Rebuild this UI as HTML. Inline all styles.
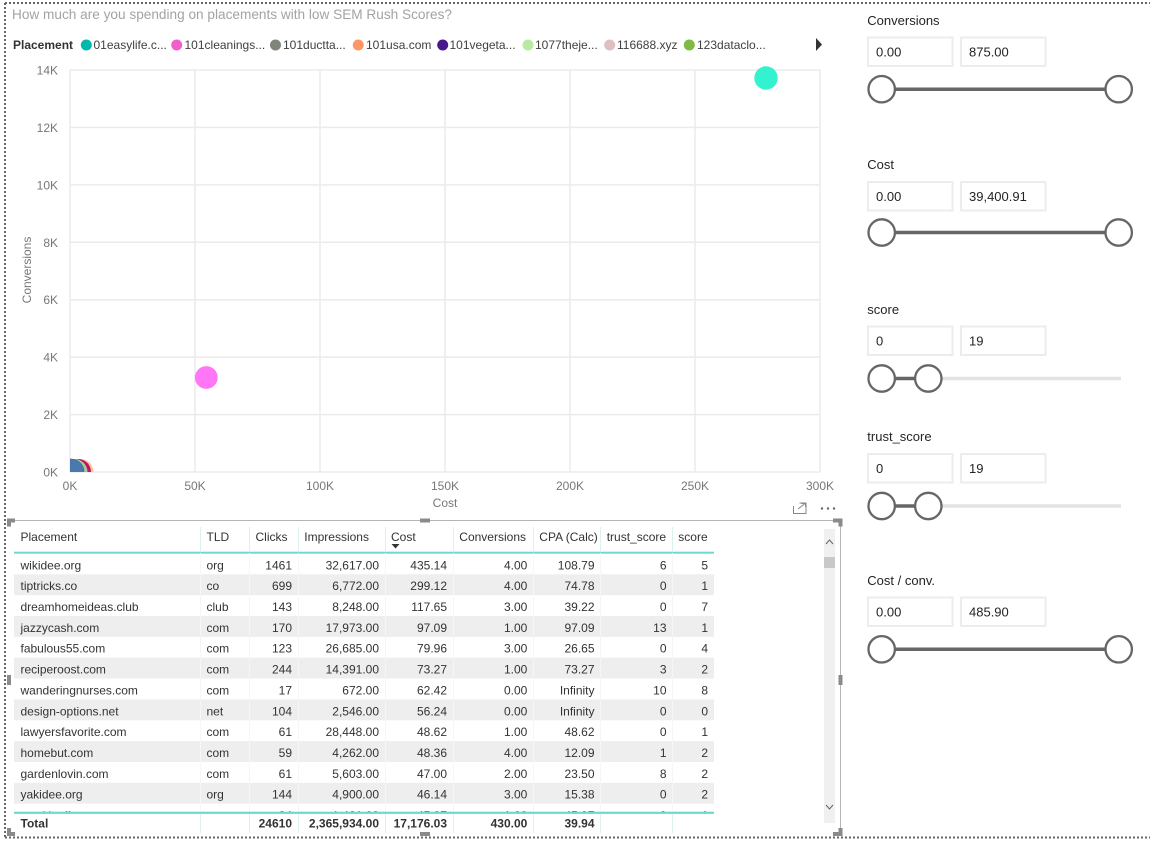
<!DOCTYPE html>
<html>
<head>
<meta charset="utf-8">
<style>
html,body{margin:0;padding:0;background:#fff;}
svg{display:block;}
text{font-family:"Liberation Sans",Arial,sans-serif;}
</style>
</head>
<body>
<svg width="1150" height="841" viewBox="0 0 1150 841" xmlns="http://www.w3.org/2000/svg">
<defs>
<clipPath id="plot"><rect x="70" y="40" width="760" height="432"/></clipPath>
<clipPath id="tbody"><rect x="14" y="553" width="806" height="258.5"/></clipPath>
</defs>

<!-- page dotted border -->
<line x1="5" y1="3" x2="1150" y2="3" stroke="#666" stroke-width="2" stroke-dasharray="2 2"/>
<line x1="5" y1="3" x2="5" y2="838" stroke="#666" stroke-width="2" stroke-dasharray="2 2"/>
<line x1="5" y1="837.5" x2="1150" y2="837.5" stroke="#666" stroke-width="2" stroke-dasharray="2 2"/>

<!-- title -->
<text x="12" y="19" font-size="14" fill="#a3a3a3" textLength="440" lengthAdjust="spacingAndGlyphs">How much are you spending on placements with low SEM Rush Scores?</text>

<!-- legend -->
<g font-size="12" fill="#404040">
<text x="13" y="49" font-weight="bold" fill="#333">Placement</text>
<circle cx="86.3" cy="45" r="5.5" fill="#01B8AA"/><text x="93.5" y="49">01easylife.c...</text>
<circle cx="176.7" cy="45" r="5.5" fill="#F25FCD"/><text x="184.5" y="49">101cleanings...</text>
<circle cx="275.5" cy="45" r="5.5" fill="#7F8579"/><text x="283" y="49">101ductta...</text>
<circle cx="358.3" cy="45" r="5.5" fill="#FE9666"/><text x="366" y="49">101usa.com</text>
<circle cx="442.7" cy="45" r="5.5" fill="#461A8C"/><text x="449.5" y="49">101vegeta...</text>
<circle cx="528" cy="45" r="5.5" fill="#B8EBA2"/><text x="535" y="49">1077theje...</text>
<circle cx="609.7" cy="45" r="5.5" fill="#DFBFBF"/><text x="617" y="49">116688.xyz</text>
<circle cx="689.3" cy="45" r="5.5" fill="#7DBB42"/><text x="697" y="49">123dataclo...</text>
<polygon points="816,38 822,44.5 816,51" fill="#333"/>
</g>

<!-- gridlines -->
<g stroke="#ebebeb" stroke-width="1.5">
<line x1="70" y1="70" x2="820" y2="70"/>
<line x1="70" y1="127.4" x2="820" y2="127.4"/>
<line x1="70" y1="184.9" x2="820" y2="184.9"/>
<line x1="70" y1="242.3" x2="820" y2="242.3"/>
<line x1="70" y1="299.7" x2="820" y2="299.7"/>
<line x1="70" y1="357.1" x2="820" y2="357.1"/>
<line x1="70" y1="414.6" x2="820" y2="414.6"/>
<line x1="70" y1="472" x2="820" y2="472"/>
<line x1="70" y1="70" x2="70" y2="472"/>
<line x1="195" y1="70" x2="195" y2="472"/>
<line x1="320" y1="70" x2="320" y2="472"/>
<line x1="445" y1="70" x2="445" y2="472"/>
<line x1="570" y1="70" x2="570" y2="472"/>
<line x1="695" y1="70" x2="695" y2="472"/>
<line x1="820" y1="70" x2="820" y2="472"/>
</g>

<!-- y tick labels -->
<g font-size="12" fill="#777" text-anchor="end">
<text x="58" y="74.5">14K</text>
<text x="58" y="131.9">12K</text>
<text x="58" y="189.4">10K</text>
<text x="58" y="246.8">8K</text>
<text x="58" y="304.2">6K</text>
<text x="58" y="361.6">4K</text>
<text x="58" y="419.1">2K</text>
<text x="58" y="476.5">0K</text>
</g>
<!-- x tick labels -->
<g font-size="12" fill="#777" text-anchor="middle">
<text x="70" y="490">0K</text>
<text x="195" y="490">50K</text>
<text x="320" y="490">100K</text>
<text x="445" y="490">150K</text>
<text x="570" y="490">200K</text>
<text x="695" y="490">250K</text>
<text x="820" y="490">300K</text>
<text x="445" y="507">Cost</text>
<text x="0" y="0" transform="translate(31,270) rotate(-90)">Conversions</text>
</g>

<!-- bubbles -->
<g clip-path="url(#plot)">
<circle cx="80.5" cy="472" r="13" fill="#FDC3A3"/>
<circle cx="78" cy="472" r="13" fill="#C0145F"/>
<circle cx="74.5" cy="472" r="13" fill="#A8C79A"/>
<circle cx="71" cy="472" r="13" fill="#4A79B0" stroke="#3b5f8a" stroke-width="0.6"/>
</g>
<circle cx="766" cy="78" r="11.7" fill="#33F2CF"/>
<circle cx="206.3" cy="377.5" r="11.4" fill="#FF77F6"/>

<!-- focus icons -->
<g stroke="#888" stroke-width="1" fill="none">
<path d="M793.5 506 V513.5 H806 V503 H799.5"/>
<path d="M798 509 L805 503.5 M801.5 503.5 H805.5 V507"/>
</g>
<g fill="#666">
<circle cx="822" cy="508.5" r="1.2"/><circle cx="828" cy="508.5" r="1.2"/><circle cx="834" cy="508.5" r="1.2"/>
</g>

<!-- table frame -->
<line x1="8" y1="520.5" x2="840" y2="520.5" stroke="#b5b5b5" stroke-width="1"/>
<line x1="840.5" y1="520" x2="840.5" y2="836" stroke="#b5b5b5" stroke-width="1"/>
<g fill="#8a8a8a">
<rect x="7" y="518.5" width="8" height="4"/><rect x="7" y="518.5" width="4" height="8"/>
<rect x="420" y="518.5" width="10" height="4"/>
<rect x="833" y="518.5" width="9" height="4"/><rect x="838.5" y="518.5" width="4" height="8"/>
<rect x="838.5" y="675" width="4" height="10"/>
<rect x="7" y="675" width="4" height="10"/>
<rect x="7" y="832" width="8" height="4"/><rect x="7" y="828" width="4" height="8"/>
<rect x="420" y="832" width="10" height="4"/>
<rect x="833" y="832" width="9" height="4"/><rect x="838.5" y="828" width="4" height="8"/>
</g>

<!-- scrollbar -->
<rect x="824" y="529" width="11" height="294" fill="#f0f0f0"/>
<rect x="824" y="557" width="11" height="11" fill="#c8c8c8"/>
<path d="M826 544 L829.5 540 L833 544" fill="none" stroke="#666" stroke-width="1"/>
<path d="M826 805 L829.5 809 L833 805" fill="none" stroke="#666" stroke-width="1"/>

<!-- header -->
<g font-size="12" fill="#333">
<text x="20.5" y="541">Placement</text>
<text x="206.5" y="541">TLD</text>
<text x="255.5" y="541">Clicks</text>
<text x="304.3" y="541">Impressions</text>
<text x="391" y="541">Cost</text>
<text x="459.3" y="541">Conversions</text>
<text x="539.3" y="541">CPA (Calc)</text>
<text x="606.7" y="541">trust_score</text>
<text x="678.3" y="541">score</text>
</g>
<polygon points="391.5,544 399.5,544 395.5,548.5" fill="#333"/>
<g stroke="#dcf2ef" stroke-width="1">
<line x1="200.5" y1="527" x2="200.5" y2="551"/>
<line x1="249.5" y1="527" x2="249.5" y2="551"/>
<line x1="298.5" y1="527" x2="298.5" y2="551"/>
<line x1="385.5" y1="527" x2="385.5" y2="551"/>
<line x1="453.5" y1="527" x2="453.5" y2="551"/>
<line x1="533.5" y1="527" x2="533.5" y2="551"/>
<line x1="600.5" y1="527" x2="600.5" y2="551"/>
<line x1="672.5" y1="527" x2="672.5" y2="551"/>
</g>
<rect x="14" y="551.7" width="700" height="2" fill="#6fd8cf"/>

<!-- body -->
<g clip-path="url(#tbody)">
<g fill="#eeeeee">
<rect x="14" y="574.3" width="700" height="20.85"/>
<rect x="14" y="616" width="700" height="20.85"/>
<rect x="14" y="657.7" width="700" height="20.85"/>
<rect x="14" y="699.4" width="700" height="20.85"/>
<rect x="14" y="741.1" width="700" height="20.85"/>
<rect x="14" y="782.8" width="700" height="20.85"/>
</g>
<g stroke="#f6f6f6" stroke-width="1">
<line x1="200.5" y1="553" x2="200.5" y2="812"/>
<line x1="249.5" y1="553" x2="249.5" y2="812"/>
<line x1="298.5" y1="553" x2="298.5" y2="812"/>
<line x1="385.5" y1="553" x2="385.5" y2="812"/>
<line x1="453.5" y1="553" x2="453.5" y2="812"/>
<line x1="533.5" y1="553" x2="533.5" y2="812"/>
<line x1="600.5" y1="553" x2="600.5" y2="812"/>
<line x1="672.5" y1="553" x2="672.5" y2="812"/>
</g>
<g font-size="12" fill="#333">
<g>
<text x="20.5" y="569.3">wikidee.org</text>
<text x="20.5" y="590.15">tiptricks.co</text>
<text x="20.5" y="611">dreamhomeideas.club</text>
<text x="20.5" y="631.85">jazzycash.com</text>
<text x="20.5" y="652.7">fabulous55.com</text>
<text x="20.5" y="673.55">reciperoost.com</text>
<text x="20.5" y="694.4">wanderingnurses.com</text>
<text x="20.5" y="715.25">design-options.net</text>
<text x="20.5" y="736.1">lawyersfavorite.com</text>
<text x="20.5" y="756.95">homebut.com</text>
<text x="20.5" y="777.8">gardenlovin.com</text>
<text x="20.5" y="798.65">yakidee.org</text>
<text x="20.5" y="819.5">weeklyoffers.com</text>
</g>
<g>
<text x="206.5" y="569.3">org</text>
<text x="206.5" y="590.15">co</text>
<text x="206.5" y="611">club</text>
<text x="206.5" y="631.85">com</text>
<text x="206.5" y="652.7">com</text>
<text x="206.5" y="673.55">com</text>
<text x="206.5" y="694.4">com</text>
<text x="206.5" y="715.25">net</text>
<text x="206.5" y="736.1">com</text>
<text x="206.5" y="756.95">com</text>
<text x="206.5" y="777.8">com</text>
<text x="206.5" y="798.65">org</text>
<text x="206.5" y="819.5">com</text>
</g>
<g text-anchor="end">
<text x="292" y="569.3">1461</text>
<text x="292" y="590.15">699</text>
<text x="292" y="611">143</text>
<text x="292" y="631.85">170</text>
<text x="292" y="652.7">123</text>
<text x="292" y="673.55">244</text>
<text x="292" y="694.4">17</text>
<text x="292" y="715.25">104</text>
<text x="292" y="736.1">61</text>
<text x="292" y="756.95">59</text>
<text x="292" y="777.8">61</text>
<text x="292" y="798.65">144</text>
<text x="292" y="819.5">84</text>

<text x="379" y="569.3">32,617.00</text>
<text x="379" y="590.15">6,772.00</text>
<text x="379" y="611">8,248.00</text>
<text x="379" y="631.85">17,973.00</text>
<text x="379" y="652.7">26,685.00</text>
<text x="379" y="673.55">14,391.00</text>
<text x="379" y="694.4">672.00</text>
<text x="379" y="715.25">2,546.00</text>
<text x="379" y="736.1">28,448.00</text>
<text x="379" y="756.95">4,262.00</text>
<text x="379" y="777.8">5,603.00</text>
<text x="379" y="798.65">4,900.00</text>
<text x="379" y="819.5">1,421.00</text>

<text x="447" y="569.3">435.14</text>
<text x="447" y="590.15">299.12</text>
<text x="447" y="611">117.65</text>
<text x="447" y="631.85">97.09</text>
<text x="447" y="652.7">79.96</text>
<text x="447" y="673.55">73.27</text>
<text x="447" y="694.4">62.42</text>
<text x="447" y="715.25">56.24</text>
<text x="447" y="736.1">48.62</text>
<text x="447" y="756.95">48.36</text>
<text x="447" y="777.8">47.00</text>
<text x="447" y="798.65">46.14</text>
<text x="447" y="819.5">45.97</text>

<text x="527.3" y="569.3">4.00</text>
<text x="527.3" y="590.15">4.00</text>
<text x="527.3" y="611">3.00</text>
<text x="527.3" y="631.85">1.00</text>
<text x="527.3" y="652.7">3.00</text>
<text x="527.3" y="673.55">1.00</text>
<text x="527.3" y="694.4">0.00</text>
<text x="527.3" y="715.25">0.00</text>
<text x="527.3" y="736.1">1.00</text>
<text x="527.3" y="756.95">4.00</text>
<text x="527.3" y="777.8">2.00</text>
<text x="527.3" y="798.65">3.00</text>
<text x="527.3" y="819.5">1.00</text>

<text x="594.5" y="569.3">108.79</text>
<text x="594.5" y="590.15">74.78</text>
<text x="594.5" y="611">39.22</text>
<text x="594.5" y="631.85">97.09</text>
<text x="594.5" y="652.7">26.65</text>
<text x="594.5" y="673.55">73.27</text>
<text x="594.5" y="694.4">Infinity</text>
<text x="594.5" y="715.25">Infinity</text>
<text x="594.5" y="736.1">48.62</text>
<text x="594.5" y="756.95">12.09</text>
<text x="594.5" y="777.8">23.50</text>
<text x="594.5" y="798.65">15.38</text>
<text x="594.5" y="819.5">45.97</text>

<text x="666.5" y="569.3">6</text>
<text x="666.5" y="590.15">0</text>
<text x="666.5" y="611">0</text>
<text x="666.5" y="631.85">13</text>
<text x="666.5" y="652.7">0</text>
<text x="666.5" y="673.55">3</text>
<text x="666.5" y="694.4">10</text>
<text x="666.5" y="715.25">0</text>
<text x="666.5" y="736.1">0</text>
<text x="666.5" y="756.95">1</text>
<text x="666.5" y="777.8">8</text>
<text x="666.5" y="798.65">0</text>
<text x="666.5" y="819.5">0</text>

<text x="708" y="569.3">5</text>
<text x="708" y="590.15">1</text>
<text x="708" y="611">7</text>
<text x="708" y="631.85">1</text>
<text x="708" y="652.7">4</text>
<text x="708" y="673.55">2</text>
<text x="708" y="694.4">8</text>
<text x="708" y="715.25">0</text>
<text x="708" y="736.1">1</text>
<text x="708" y="756.95">2</text>
<text x="708" y="777.8">2</text>
<text x="708" y="798.65">2</text>
<text x="708" y="819.5">1</text>
</g>
</g>
</g>

<!-- total -->
<rect x="14" y="811.7" width="700" height="2.2" fill="#6fd8cf"/>
<g stroke="#dcf2ef" stroke-width="1">
<line x1="200.5" y1="814" x2="200.5" y2="833"/>
<line x1="249.5" y1="814" x2="249.5" y2="833"/>
<line x1="298.5" y1="814" x2="298.5" y2="833"/>
<line x1="385.5" y1="814" x2="385.5" y2="833"/>
<line x1="453.5" y1="814" x2="453.5" y2="833"/>
<line x1="533.5" y1="814" x2="533.5" y2="833"/>
<line x1="600.5" y1="814" x2="600.5" y2="833"/>
<line x1="672.5" y1="814" x2="672.5" y2="833"/>
</g>
<g font-size="12" font-weight="bold" fill="#333">
<text x="20.5" y="827.5">Total</text>
<g text-anchor="end">
<text x="292" y="827.5">24610</text>
<text x="379" y="827.5">2,365,934.00</text>
<text x="447" y="827.5">17,176.03</text>
<text x="527.3" y="827.5">430.00</text>
<text x="594.5" y="827.5">39.94</text>
</g>
</g>

<!-- slicers -->
<g font-size="13" fill="#252423">
<text x="867.3" y="25">Conversions</text>
<text x="867.3" y="169">Cost</text>
<text x="867.3" y="314">score</text>
<text x="867.3" y="441">trust_score</text>
<text x="867.3" y="585">Cost / conv.</text>
</g>
<g fill="#fff" stroke="#ececec" stroke-width="2">
<rect x="868" y="37.5" width="84.5" height="28.5"/>
<rect x="961" y="37.5" width="84.5" height="28.5"/>
<rect x="868" y="182" width="84.5" height="28.5"/>
<rect x="961" y="182" width="84.5" height="28.5"/>
<rect x="868" y="326.5" width="84.5" height="28.5"/>
<rect x="961" y="326.5" width="84.5" height="28.5"/>
<rect x="868" y="454" width="84.5" height="28.5"/>
<rect x="961" y="454" width="84.5" height="28.5"/>
<rect x="868" y="597.5" width="84.5" height="28.5"/>
<rect x="961" y="597.5" width="84.5" height="28.5"/>
</g>
<g font-size="13" fill="#252423">
<text x="876" y="56.5">0.00</text><text x="969" y="56.5">875.00</text>
<text x="876" y="201">0.00</text><text x="969" y="201">39,400.91</text>
<text x="876" y="345.5">0</text><text x="969" y="345.5">19</text>
<text x="876" y="473">0</text><text x="969" y="473">19</text>
<text x="876" y="616.5">0.00</text><text x="969" y="616.5">485.90</text>
</g>
<!-- slider tracks -->
<g stroke="#e3e3e3" stroke-width="3.5">
<line x1="940" y1="378.5" x2="1121" y2="378.5"/>
<line x1="940" y1="506" x2="1121" y2="506"/>
</g>
<g stroke="#666" stroke-width="3.5">
<line x1="882" y1="89.2" x2="1118.7" y2="89.2"/>
<line x1="882" y1="232.5" x2="1118.7" y2="232.5"/>
<line x1="882" y1="378.5" x2="928.3" y2="378.5"/>
<line x1="882" y1="506" x2="928.3" y2="506"/>
<line x1="882" y1="649.3" x2="1118.7" y2="649.3"/>
</g>
<g fill="#fff" stroke="#666" stroke-width="2.3">
<circle cx="881.7" cy="89.2" r="13.2"/><circle cx="1118.7" cy="89.2" r="13.2"/>
<circle cx="881.7" cy="232.5" r="13.2"/><circle cx="1118.7" cy="232.5" r="13.2"/>
<circle cx="881.7" cy="378.5" r="13.2"/><circle cx="928.3" cy="378.5" r="13.2"/>
<circle cx="881.7" cy="506" r="13.2"/><circle cx="928.3" cy="506" r="13.2"/>
<circle cx="881.7" cy="649.3" r="13.2"/><circle cx="1118.7" cy="649.3" r="13.2"/>
</g>
</svg>
</body>
</html>
